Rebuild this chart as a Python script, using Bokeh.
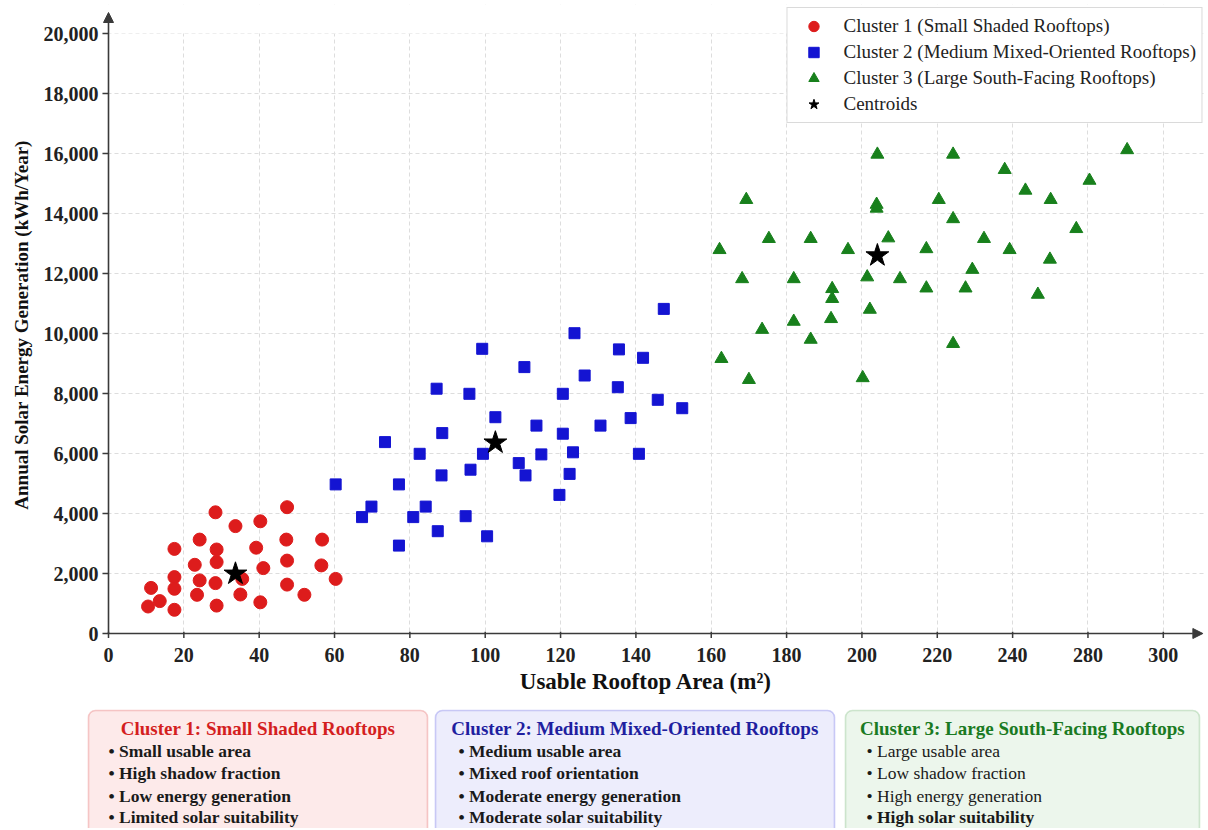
from bokeh.plotting import figure
from bokeh.layouts import column
from bokeh.models import Range1d, FixedTicker, Arrow, NormalHead, Legend, LegendItem, BoxAnnotation
from bokeh.core.properties import value
from bokeh.embed import file_html
from bokeh.resources import INLINE

# ---------------- data ----------------
c1_area = [28.4, 47.4, 33.7, 40.3, 24.2, 17.5, 28.7, 39.2, 47.2, 56.7, 22.9, 28.7, 41.1, 47.4, 56.5, 17.5,
           24.2, 28.4, 35.5, 60.3, 11.3, 17.5, 23.5, 35.0, 47.4, 52.0, 13.6, 10.5, 17.5, 28.7, 40.3]
c1_energy = [4040, 4210, 3580, 3740, 3130, 2820, 2800, 2860, 3130, 3130, 2290, 2380, 2180, 2430, 2270, 1880,
             1770, 1680, 1820, 1820, 1520, 1490, 1290, 1300, 1630, 1290, 1080, 900, 790, 930, 1040]

c2_area = [147.4, 123.7, 99.2, 135.5, 141.9, 110.4, 126.4, 87.1, 95.8, 120.6, 135.2, 145.8, 152.3, 102.7,
           138.6, 113.6, 130.6, 88.6, 120.6, 73.4, 82.6, 99.4, 114.9, 123.3, 140.8, 108.9, 96.1, 88.4, 110.7,
           122.4, 60.3, 77.1, 119.7, 69.8, 84.2, 67.3, 80.9, 94.8, 87.4, 100.5, 77.1]
c2_energy = [10820, 10010, 9490, 9470, 9190, 8880, 8600, 8160, 7990, 7990, 8210, 7790, 7510, 7210,
             7180, 6930, 6930, 6680, 6660, 6380, 5990, 5990, 5970, 6040, 5990, 5680, 5460, 5270, 5270,
             5320, 4970, 4970, 4620, 4230, 4230, 3880, 3880, 3910, 3410, 3240, 2930]

c3_area = [270.4, 204.1, 224.2, 237.9, 260.4, 243.4, 169.3, 220.4, 250.1, 203.9, 203.9, 224.2, 256.9, 175.3,
           186.4, 207.0, 232.4, 162.2, 196.3, 217.1, 239.2, 249.9, 229.3, 168.2, 181.9, 201.4, 210.1, 217.1,
           227.5, 246.7, 192.1, 192.1, 202.1, 181.9, 191.8, 173.5, 186.4, 224.2, 162.7, 170.0, 200.2]
c3_energy = [16120, 15970, 15970, 15460, 15100, 14770, 14460, 14460, 14460, 14300, 14170, 13820, 13490, 13160,
             13160, 13180, 13160, 12790, 12790, 12820, 12790, 12470, 12130, 11820, 11820, 11880, 11820, 11510,
             11510, 11300, 11490, 11160, 10800, 10400, 10490, 10130, 9800, 9660, 9160, 8460, 8520]

centroid_area = [33.7, 102.7, 204.1]
centroid_energy = [1990, 6360, 12600]

series_names = ["Cluster 1 (Small Shaded Rooftops)", "Cluster 2 (Medium Mixed-Oriented Rooftops)",
                "Cluster 3 (Large South-Facing Rooftops)", "Centroids"]

x_ticks = [0, 20, 40, 60, 80, 100, 120, 140, 160, 180, 200, 220, 240, 260, 280]
x_tick_labels = ["0", "20", "40", "60", "80", "100", "120", "140", "160", "180", "200", "220", "240", "280", "300"]
y_ticks = [0, 2000, 4000, 6000, 8000, 10000, 12000, 14000, 16000, 18000, 20000]
y_tick_labels = ["0", "2,000", "4,000", "6,000", "8,000", "10,000", "12,000", "14,000", "16,000", "18,000", "20,000"]

box_titles = ["Cluster 1: Small Shaded Rooftops", "Cluster 2: Medium Mixed-Oriented Rooftops",
              "Cluster 3: Large South-Facing Rooftops"]
box1_items = ["• Small usable area", "• High shadow fraction", "• Low energy generation", "• Limited solar suitability"]
box2_items = ["• Medium usable area", "• Mixed roof orientation", "• Moderate energy generation", "• Moderate solar suitability"]
box3_items = ["• Large usable area", "• Low shadow fraction", "• High energy generation", "• High solar suitability"]

# ---------------- styles ----------------
FONT = "Liberation Serif"
RED, BLUE, GREEN = "#dd1c1c", "#1414d2", "#18801c"
AXIS_C = "#3a3a3a"
W = 1208
H1 = 708
H2 = 120
FRAME_L = 86           # canvas x of the frame's left edge
X_MAX = 290.5          # arrow tip of the x axis
Y_MAX = 20700          # arrow tip of the y axis

p = figure(width=W, height=H1, output_backend="svg", toolbar_location=None,
           x_range=Range1d(-(108 - FRAME_L) / 3.767, 291.2), y_range=Range1d(-400, 20967),
           min_border_left=FRAME_L, min_border_right=3, min_border_top=4, min_border_bottom=63)
p.outline_line_color = None
p.background_fill_color = "white"
p.border_fill_color = "white"

for ax in (p.xaxis[0], p.yaxis[0]):
    ax.axis_line_color = None
    ax.major_tick_line_color = None
    ax.major_tick_out = 0
    ax.major_tick_in = 0
    ax.minor_tick_line_color = None
    ax.major_label_text_font = FONT
    ax.major_label_text_font_style = "bold"
    ax.major_label_text_font_size = "20px"
    ax.major_label_text_color = "#222222"
    ax.axis_label_text_font = FONT
    ax.axis_label_text_font_style = "bold"
    ax.axis_label_text_color = "#111111"

p.xaxis.ticker = FixedTicker(ticks=x_ticks)
p.xaxis.major_label_overrides = dict(zip(x_ticks, x_tick_labels))
p.yaxis.ticker = FixedTicker(ticks=y_ticks)
p.yaxis.major_label_overrides = dict(zip(y_ticks, y_tick_labels))
p.xaxis.major_label_standoff = 2
p.yaxis.major_label_standoff = -(98 - FRAME_L)
p.xaxis.axis_label = "Usable Rooftop Area (m²)"
p.yaxis.axis_label = "Annual Solar Energy Generation (kWh/Year)"
p.xaxis.axis_label_text_font_size = "23px"
p.yaxis.axis_label_text_font_size = "19px"
p.xaxis.axis_label_standoff = 4
p.yaxis.axis_label_standoff = 9

for g in (p.xgrid[0], p.ygrid[0]):
    g.grid_line_color = "#dddddd"
    g.grid_line_dash = "4 3"
    g.grid_line_width = 1

# white masks so the dashed grid stays inside the axes box
for kw in (dict(top=0), dict(right=0), dict(bottom=y_ticks[-1])):
    p.add_layout(BoxAnnotation(fill_color="white", fill_alpha=1, line_color=None, level="underlay", **kw))

# tick marks on the axis lines
p.segment(x0=x_ticks, y0=[60] * len(x_ticks), x1=x_ticks, y1=[-150] * len(x_ticks),
          line_color=AXIS_C, line_width=1.5)
p.segment(x0=[0] * len(y_ticks), y0=y_ticks, x1=[-1.6] * len(y_ticks), y1=y_ticks,
          line_color=AXIS_C, line_width=1.5)

r1 = p.scatter(c1_area, c1_energy, marker="circle", size=13, fill_color=RED, line_color=RED)
r2 = p.scatter(c2_area, c2_energy, marker="square", size=11, fill_color=BLUE, line_color=BLUE)
r3 = p.scatter(c3_area, c3_energy, marker="triangle", size=13, fill_color=GREEN, line_color=GREEN)
r4 = p.scatter(centroid_area, centroid_energy, marker="star", size=24, fill_color="black", line_color="black")

p.add_layout(Arrow(x_start=0, y_start=0, x_end=X_MAX, y_end=0, line_color=AXIS_C, line_width=1.6,
                   end=NormalHead(size=10, fill_color=AXIS_C, line_color=AXIS_C)))
p.add_layout(Arrow(x_start=0, y_start=0, x_end=0, y_end=Y_MAX, line_color=AXIS_C, line_width=1.6,
                   end=NormalHead(size=10, fill_color=AXIS_C, line_color=AXIS_C)))

legend = Legend(items=[LegendItem(label=series_names[i], renderers=[r]) for i, r in enumerate([r1, r2, r3, r4])],
                location="top_right", margin=3, padding=5, spacing=0,
                glyph_width=42, glyph_height=26, label_standoff=9, label_height=20,
                label_text_font=FONT, label_text_font_size="19px", label_text_color="#222222",
                border_line_color="#b5b5b5", border_line_width=1.2, background_fill_alpha=1.0)
p.add_layout(legend)

# ---------------- description boxes ----------------
p2 = figure(width=W, height=H2, output_backend="svg", toolbar_location=None,
            x_range=Range1d(FRAME_L, 1205), y_range=Range1d(H2, 0),
            x_axis_type=None, y_axis_type=None,
            min_border_left=FRAME_L, min_border_right=3, min_border_top=0, min_border_bottom=0)
p2.outline_line_color = None
p2.xgrid.visible = False
p2.ygrid.visible = False
p2.background_fill_color = "white"
p2.border_fill_color = "white"

boxes = [(88, 427, "#fdeaea", "#e05656", "#d41f1f"),
         (435, 834, "#ededfc", "#5c5ce4", "#1f1fa0"),
         (845, 1199, "#ecf6ec", "#6cb46c", "#1a7a22")]
bullet_x = [108, 458, 866]
item_sets = [box1_items, box2_items, box3_items]
ys = [42, 64, 87, 108]
for i, (l, r, fill, border, tcol) in enumerate(boxes):
    p2.add_layout(BoxAnnotation(left=l, right=r, top=2, bottom=H2 + 20, fill_color=fill, fill_alpha=1,
                                line_color=border, line_width=1.6, border_radius=7, level="underlay"))
    p2.text(x=[(l + r) / 2], y=[20], text=[box_titles[i]], text_font=value(FONT), text_font_style="bold",
            text_font_size=value("19px"), text_color=tcol, text_align="center", text_baseline="middle")
    items = item_sets[i]
    if i < 2:
        p2.text(x=[bullet_x[i]] * 4, y=ys, text=items, text_font=value(FONT), text_font_style="bold",
                text_font_size=value("17.5px"), text_color="#1a1a1a", text_align="left", text_baseline="middle")
    else:
        p2.text(x=[bullet_x[i]] * 3, y=ys[:3], text=items[:3], text_font=value(FONT), text_font_style="normal",
                text_font_size=value("17.5px"), text_color="#1a1a1a", text_align="left", text_baseline="middle")
        p2.text(x=[bullet_x[i]], y=ys[3:], text=items[3:], text_font=value(FONT), text_font_style="bold",
                text_font_size=value("17.5px"), text_color="#1a1a1a", text_align="left", text_baseline="middle")

layout = column(p, p2, spacing=0)
open("out.html", "w").write(file_html(layout, INLINE))
